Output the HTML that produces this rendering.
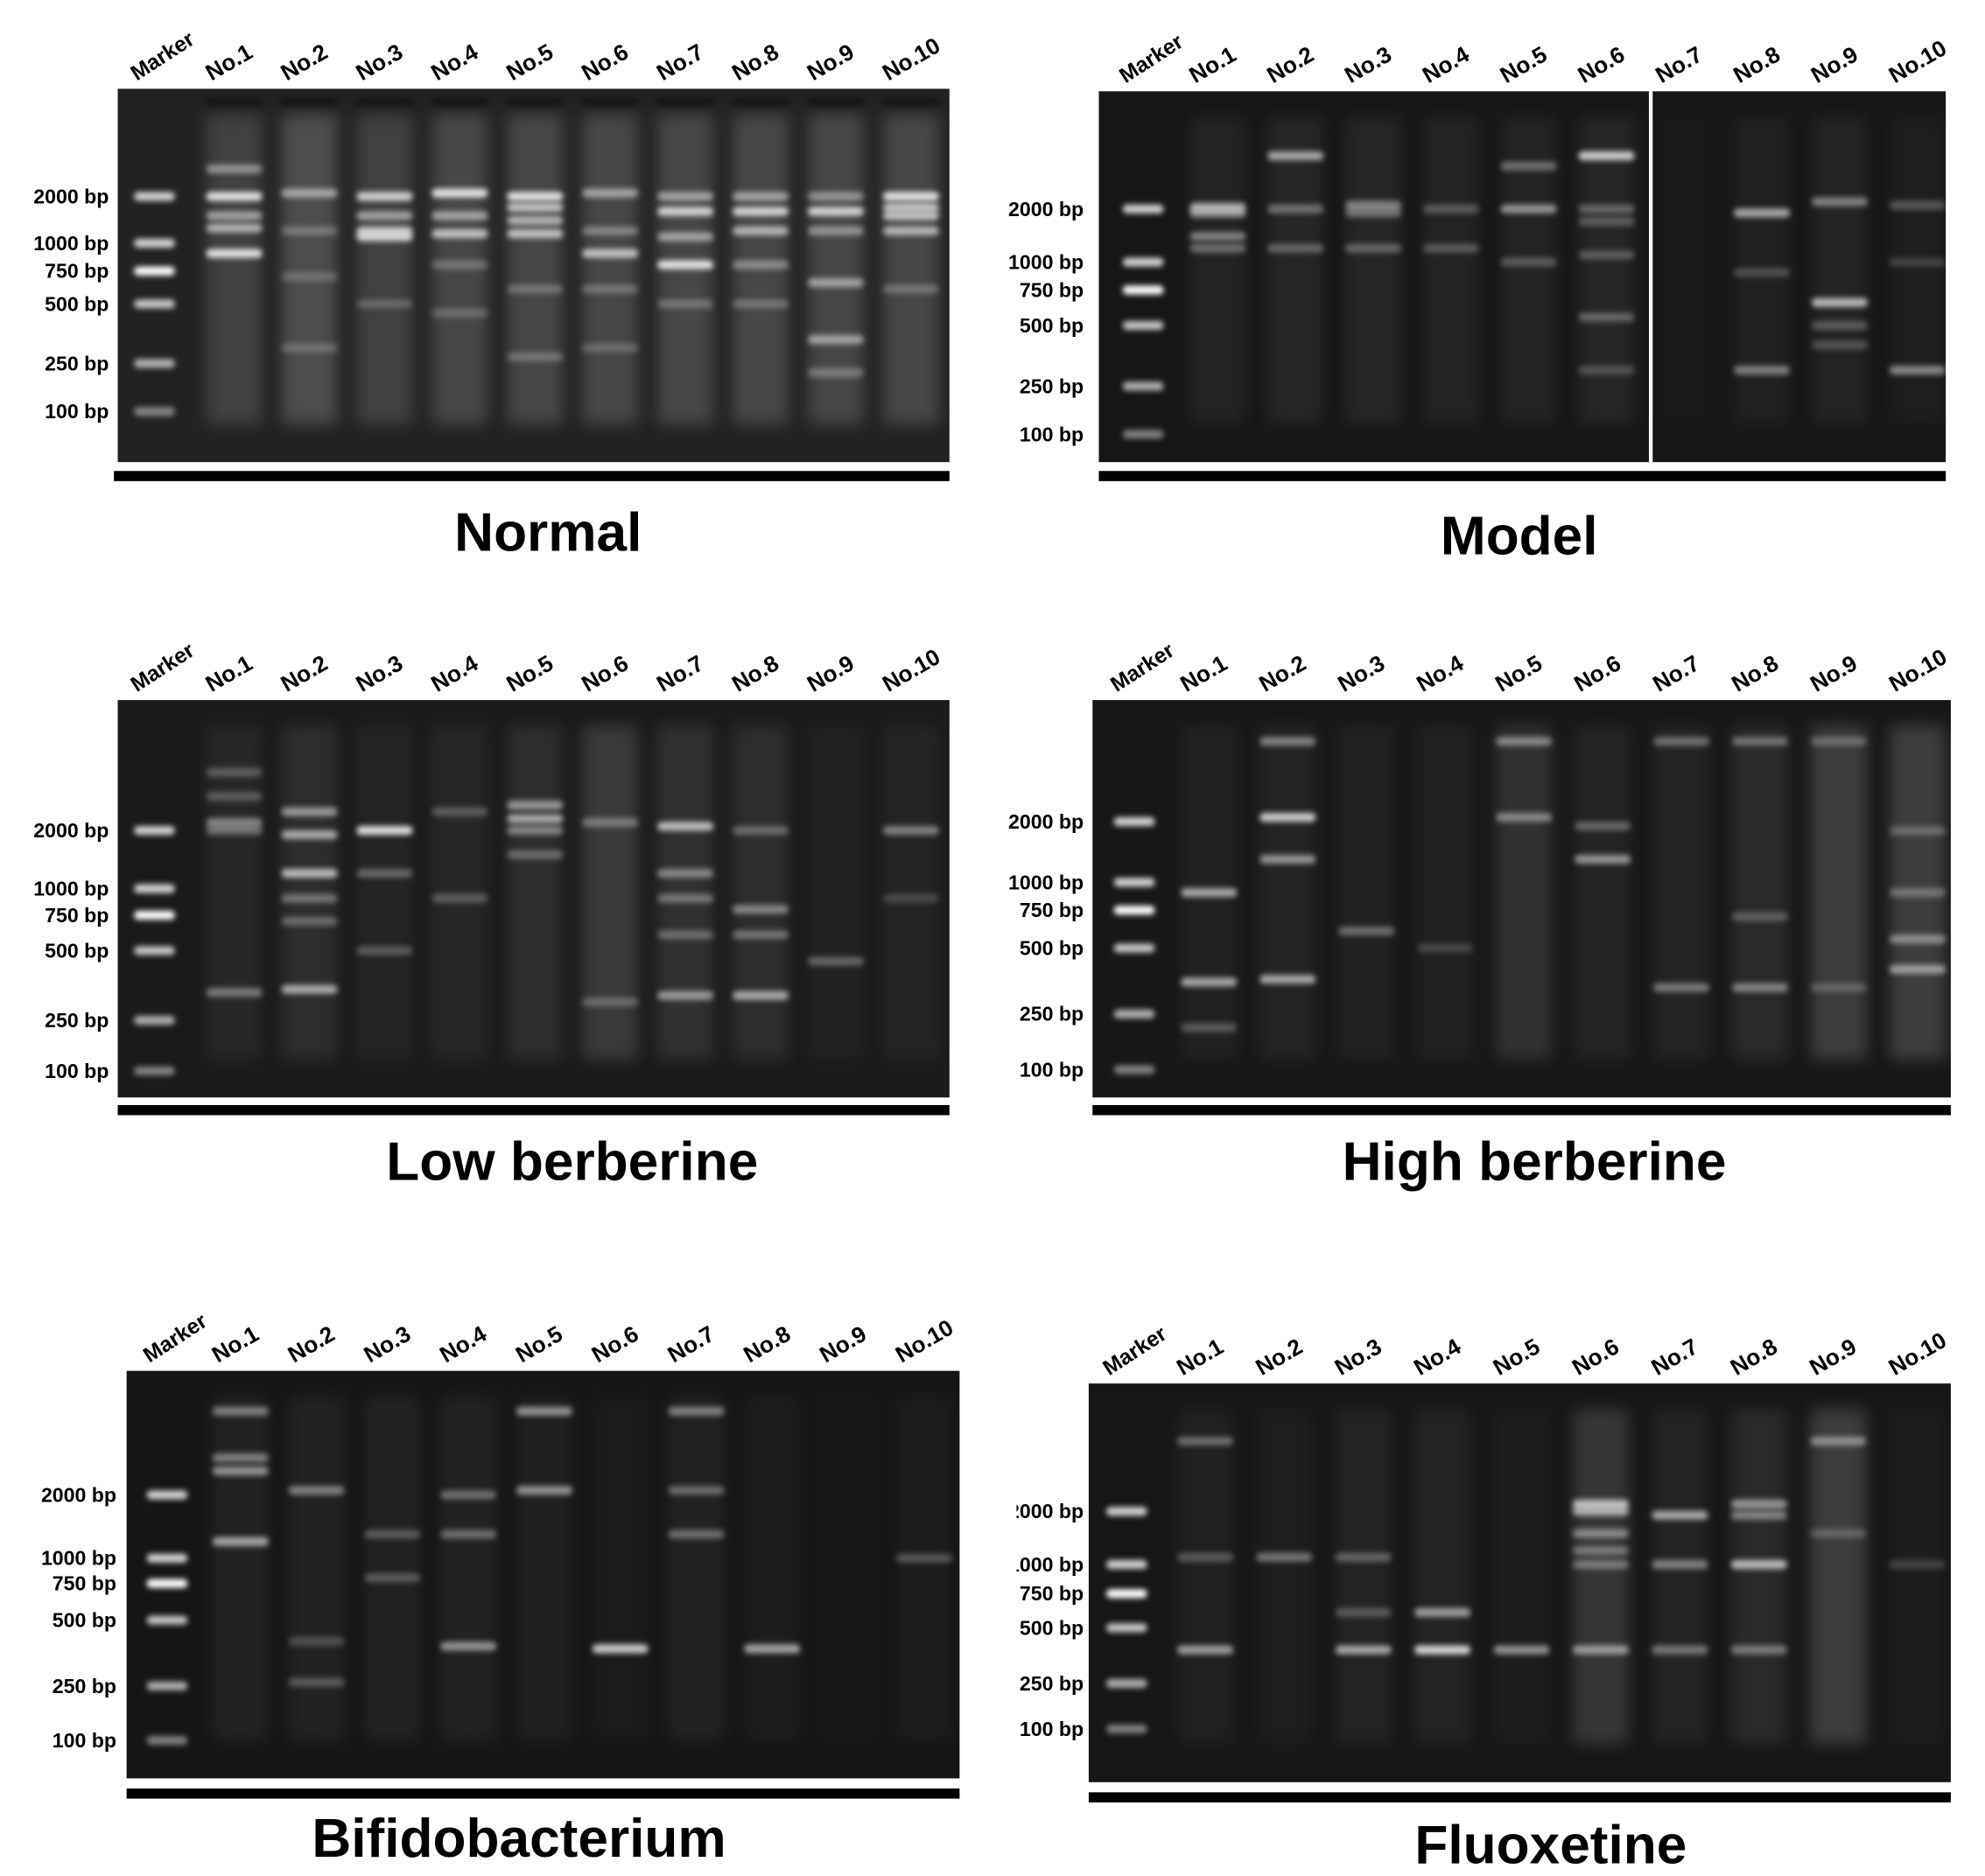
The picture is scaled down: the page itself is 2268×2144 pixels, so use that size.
<!DOCTYPE html>
<html><head><meta charset="utf-8">
<style>
html,body{margin:0;padding:0;background:#fff;}
svg{display:block;}
text{font-family:"Liberation Sans",sans-serif;font-weight:bold;}
</style></head>
<body>
<svg id="fig" width="2268" height="2144" viewBox="0 0 1568 1482" xmlns="http://www.w3.org/2000/svg">
<defs>
<filter id="blur" x="-20%" y="-300%" width="140%" height="700%"><feGaussianBlur stdDeviation="2.2"/></filter>
<filter id="blur2" x="-30%" y="-20%" width="160%" height="140%"><feGaussianBlur stdDeviation="6"/></filter>
</defs>
</svg>
<script>
// ===== data =====
const markerSizes=[2000,1000,750,500,250,100];
const markerLabels=["2000 bp","1000 bp","750 bp","500 bp","250 bp","100 bp"];
const markerIntensity=[0.8,0.8,1,0.75,0.65,0.45];
const laneLabels=["No.1","No.2","No.3","No.4","No.5","No.6","No.7","No.8","No.9","No.10"];
const titles=["Normal","Model","Low berberine","High berberine","Bifidobacterium","Fluoxetine"];

const normalBands=[
 [[2000,1],[1500,.6],[1250,.7],[900,1],[3000,.5]],
 [[2100,.6],[1200,.3],[700,.25],[300,.25]],
 [[2000,.9],[1500,.6],[1200,.8],[1100,.9],[500,.25]],
 [[2100,1],[1500,.6],[1150,.8],[800,.3],[450,.25]],
 [[2000,1],[1700,.8],[1400,.7],[1150,.8],[600,.3],[270,.3]],
 [[2100,.6],[1200,.4],[900,.8],[600,.3],[300,.25]],
 [[2000,.6],[1600,.9],[1100,.6],[800,1],[500,.3]],
 [[2000,.6],[1600,.9],[1200,.7],[800,.45],[500,.3]],
 [[2000,.5],[1600,.9],[1200,.5],[650,.6],[330,.6],[210,.35]],
 [[2000,1],[1700,.8],[1500,.8],[1200,.7],[600,.3]]
];
const normalSmear=[.25,.35,.25,.3,.3,.3,.3,.3,.3,.3];

const modelBands=[
 [[2050,.7],[1900,.6],[1400,.5],[1200,.4]],
 [[4000,.7],[2000,.4],[1200,.35]],
 [[2100,.5],[1900,.4],[1200,.35]],
 [[2000,.3],[1200,.3]],
 [[3500,.4],[2000,.6],[1000,.3]],
 [[4000,.9],[2000,.35],[1700,.3],[1100,.3],[550,.35],[300,.25]],
 [],
 [[1900,.7],[900,.25],[300,.5]],
 [[2200,.5],[650,.8],[500,.3],[400,.25]],
 [[2100,.3],[1000,.2],[300,.55]]
];
const modelSmear=[.1,.12,.12,.1,.1,.12,.02,.08,.1,.06];

const lowBands=[
 [[4000,.3],[3000,.3],[2200,.5],[2000,.4],[330,.45]],
 [[2500,.6],[1900,.7],[1200,.8],[900,.4],[700,.35],[340,.7]],
 [[2000,1],[1200,.35],[500,.3]],
 [[2500,.3],[900,.3]],
 [[2700,.6],[2300,.7],[2000,.5],[1500,.35]],
 [[2200,.4],[300,.3]],
 [[2100,.8],[1200,.5],[900,.4],[600,.35],[320,.6]],
 [[2000,.35],[800,.5],[600,.4],[320,.7]],
 [[450,.35]],
 [[2000,.5],[900,.2]]
];
const lowSmear=[.1,.15,.08,.1,.15,.25,.18,.15,.06,.08];

const highBands=[
 [[900,.7],[350,.7],[200,.3]],
 [[5000,.5],[2100,.9],[1300,.6],[360,.7]],
 [[600,.4]],
 [[500,.2]],
 [[5000,.5],[2100,.5]],
 [[1900,.35],[1300,.6]],
 [[5000,.4],[330,.45]],
 [[5000,.4],[700,.3],[330,.5]],
 [[5000,.3],[330,.25]],
 [[1800,.3],[900,.35],[550,.5],[400,.6]]
];
const highSmear=[.08,.1,.08,.08,.2,.1,.1,.15,.3,.3];

const bifidoBands=[
 [[5000,.5],[3000,.5],[2600,.6],[1200,.7]],
 [[2100,.5],[400,.25],[260,.3]],
 [[1300,.3],[800,.3]],
 [[2000,.4],[1300,.4],[380,.6]],
 [[5000,.6],[2100,.6]],
 [[370,.9]],
 [[5000,.5],[2100,.4],[1300,.4]],
 [[370,.7]],
 [],
 [[1000,.3]]
];
const bifidoSmear=[.1,.1,.1,.1,.08,.04,.1,.06,.02,.05];

const fluoxBands=[
 [[5000,.4],[1100,.3],[380,.65]],
 [[1100,.45]],
 [[1100,.35],[600,.3],[380,.7]],
 [[600,.65],[380,.95]],
 [[380,.6]],
 [[2200,.8],[2000,.7],[1500,.5],[1200,.4],[1000,.4],[380,.6]],
 [[1900,.7],[1000,.5],[380,.45]],
 [[2200,.6],[1900,.5],[1000,.8],[380,.45]],
 [[5000,.5],[1500,.25]],
 [[1000,.2]]
];
const fluoxSmear=[.08,.06,.1,.1,.05,.25,.1,.15,.3,.05];

// ===== layout =====
const panels=[
 {gx:93,gy:70,gw:657,gh:295,mx:122,l1:185,st:59.4,my:[155,192,214,240,287,325],lx:86,bar:[90,372,660],tx:433,ty:435,bands:normalBands,smear:normalSmear,bg:"#222",divider:null,wells:true},
 {gx:868,gy:72,gw:669,gh:293,mx:903,l1:962,st:61.4,my:[165,207,229,257,305,343],lx:856,bar:[868,372,669],tx:1200,ty:438,bands:modelBands,smear:modelSmear,bg:"#161616",divider:1304},
 {gx:93,gy:553,gw:657,gh:314,mx:122,l1:185,st:59.4,my:[656,702,723,751,806,846],lx:86,bar:[93,873,657],tx:452,ty:932,bands:lowBands,smear:lowSmear,bg:"#1a1a1a",divider:null},
 {gx:863,gy:553,gw:678,gh:314,mx:896,l1:955,st:62.2,my:[649,697,719,749,801,845],lx:856,bar:[863,873,678],tx:1212,ty:932,bands:highBands,smear:highSmear,bg:"#171717",divider:null},
 {gx:100,gy:1083,gw:658,gh:322,mx:132,l1:190,st:60,my:[1181,1231,1251,1280,1332,1375],lx:92,bar:[100,1413,658],tx:410,ty:1467,bands:bifidoBands,smear:bifidoSmear,bg:"#151515",divider:null},
 {gx:860,gy:1093,gw:681,gh:315,mx:890,l1:952,st:62.5,my:[1194,1236,1259,1286,1330,1366],lx:856,bar:[860,1416,681],tx:1225,ty:1472,bands:fluoxBands,smear:fluoxSmear,bg:"#161616",divider:null,clipX:803}
];

const NS="http://www.w3.org/2000/svg";
const svg=document.getElementById('fig');
function mk(tag,attrs,parent){const e=document.createElementNS(NS,tag);for(const k in attrs)e.setAttribute(k,attrs[k]);(parent||svg).appendChild(e);return e;}

function yScale(p){
  const ls=markerSizes.map(Math.log);
  return function(bp){
    const v=Math.log(bp);
    let i=0;
    if(v>=ls[0]) i=0; else if(v<=ls[ls.length-1]) i=ls.length-2;
    else {for(i=0;i<ls.length-1;i++){if(v<=ls[i]&&v>=ls[i+1])break;}}
    const t=(v-ls[i])/(ls[i+1]-ls[i]);
    return p.my[i]+t*(p.my[i+1]-p.my[i]);
  };
}

panels.forEach((p,pi)=>{
  const g=mk('g',{});
  
  
  const y=yScale(p);
  const bgR=mk('rect',{x:p.gx,y:p.gy,width:p.gw,height:p.gh,fill:p.bg},g);
  
  
  const bw=Math.min(44,p.st*0.74);
  markerSizes.forEach((s,i)=>{
    const b=mk('rect',{x:p.mx-16,y:y(s)-3.5,width:32,height:7,rx:3,fill:'#fff',opacity:markerIntensity[i],filter:'url(#blur)'},g);
    
    
    const t=mk('text',{x:p.lx,y:p.my[i]+5.5,'font-size':16,'text-anchor':'end',fill:'#000'},g);
    t.textContent=markerLabels[i];
    
    
  });
  const ml=mk('text',{x:0,y:0,'font-size':17,fill:'#000',transform:`translate(${p.mx-14},${p.gy-6}) rotate(-33)`},g);
  ml.textContent='Marker';
  
  
  p.bands.forEach((lane,li)=>{
    const cx=p.l1+li*p.st;
    const sm=mk('rect',{x:cx-bw/2,y:p.gy+20,width:bw,height:p.gh-50,fill:'#fff',opacity:p.smear[li]*0.55,filter:'url(#blur2)'},g);
    
    
    if(p.wells){
      const well=mk('rect',{x:cx-bw/2,y:p.gy+8,width:bw,height:5,fill:'#000',opacity:.5,filter:'url(#blur)'},g);
      
      
    }
    lane.forEach(([bp,it])=>{
      const yy=Math.max(p.gy+16,y(bp));
      const b=mk('rect',{x:cx-bw/2,y:yy-3.5,width:bw,height:7,rx:3,fill:'#fff',opacity:it*0.85,filter:'url(#blur)'},g);
      
      
    });
    const t=mk('text',{x:0,y:0,'font-size':18,fill:'#000',transform:`translate(${cx-18},${p.gy-6}) rotate(-30)`},g);
    t.textContent=laneLabels[li];
    
    
  });
  if(p.divider){
    const d=mk('rect',{x:p.divider-1.5,y:p.gy,width:3,height:p.gh,fill:'#fff'},g);
    
    
  }
  if(p.clipX){
    const c=mk('rect',{x:p.clipX-30,y:p.gy+80,width:30,height:p.gh-80,fill:'#fff'},g);
    
    
  }
  const bar=mk('rect',{x:p.bar[0],y:p.bar[1],width:p.bar[2],height:8,fill:'#000'},g);
  
  
  const tt=mk('text',{x:p.tx,y:p.ty,'font-size':43,'text-anchor':'middle',fill:'#000'},g);
  tt.textContent=titles[pi];
  
  
});
</script>
</body></html>
